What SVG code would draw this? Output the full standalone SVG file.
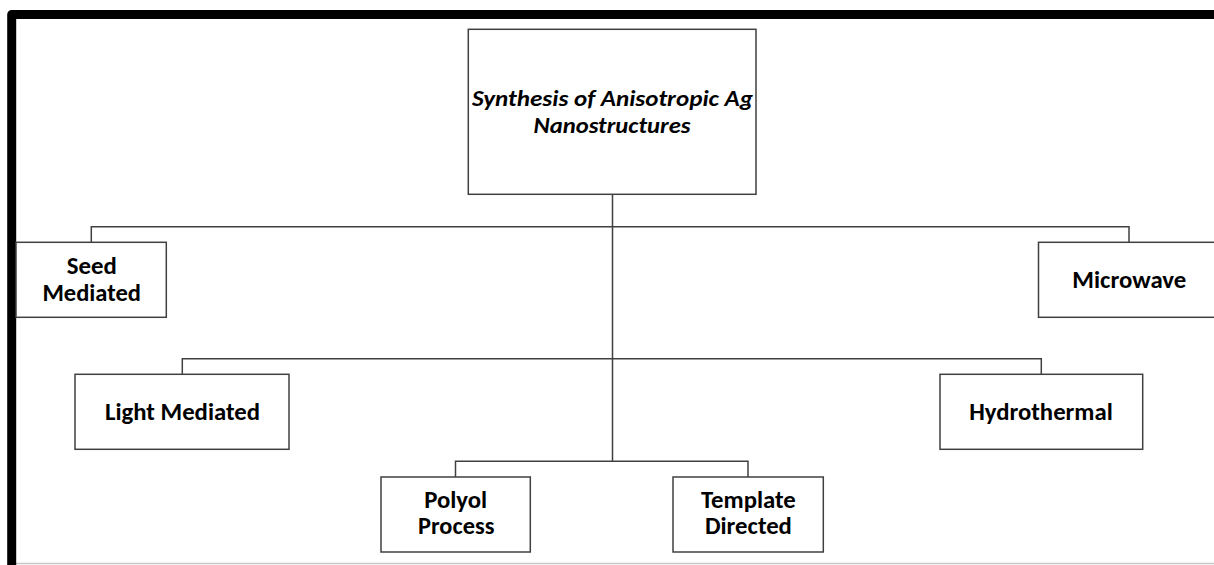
<svg xmlns="http://www.w3.org/2000/svg" width="1214" height="565" viewBox="0 0 1214 565">
<style>
.box{fill:#fff;stroke:#404040;stroke-width:1.5}
.con{fill:none;stroke:#404040;stroke-width:1.5}
.t{font-family:Calibri,Carlito,"Liberation Sans",sans-serif;font-weight:bold;font-size:24px;fill:#000;text-anchor:middle}
.it{font-style:italic;font-size:22px}
</style>
<rect x="0" y="0" width="1214" height="565" fill="#fff"/>
<line x1="16" y1="563.5" x2="1214" y2="563.5" stroke="#c8c8c8" stroke-width="1.5"/>
<path d="M11.7 570 V14.5 H1220" fill="none" stroke="#000" stroke-width="9" stroke-linejoin="round"/>
<g id="connectors">
<path class="con" d="M612.5 194.3 V461.3"/>
<path class="con" d="M91.3 242.3 V226.7 H1129 V242.3"/>
<path class="con" d="M182.3 374.3 V358.7 H1041.3 V374.3"/>
<path class="con" d="M455.5 477 V461.3 H748 V477"/>
</g>
<g id="root">
<rect class="box" x="468.3" y="29.3" width="287.7" height="165"/>
<text class="t it" x="612.5" y="106" textLength="281" lengthAdjust="spacingAndGlyphs">Synthesis of Anisotropic Ag</text>
<text class="t it" x="612" y="132.5" textLength="157" lengthAdjust="spacingAndGlyphs">Nanostructures</text>
</g>
<g id="seed">
<rect class="box" x="16" y="242.3" width="150.3" height="75"/>
<text class="t" x="91.7" y="274" textLength="50" lengthAdjust="spacingAndGlyphs">Seed</text>
<text class="t" x="91.7" y="301" textLength="98.5" lengthAdjust="spacingAndGlyphs">Mediated</text>
</g>
<g id="microwave">
<rect class="box" x="1038.5" y="242.3" width="182" height="75"/>
<text class="t" x="1129.3" y="287.5" textLength="114" lengthAdjust="spacingAndGlyphs">Microwave</text>
</g>
<g id="light">
<rect class="box" x="75" y="374.3" width="214" height="75"/>
<text class="t" x="182.5" y="419.5" textLength="155" lengthAdjust="spacingAndGlyphs">Light Mediated</text>
</g>
<g id="hydrothermal">
<rect class="box" x="940" y="374.3" width="202.7" height="75"/>
<text class="t" x="1041" y="419.5" textLength="143.5" lengthAdjust="spacingAndGlyphs">Hydrothermal</text>
</g>
<g id="polyol">
<rect class="box" x="381" y="477" width="149.3" height="75"/>
<text class="t" x="455.7" y="507.5" textLength="63" lengthAdjust="spacingAndGlyphs">Polyol</text>
<text class="t" x="456.2" y="534" textLength="76.3" lengthAdjust="spacingAndGlyphs">Process</text>
</g>
<g id="template">
<rect class="box" x="673" y="477" width="150.3" height="75"/>
<text class="t" x="748.4" y="507.5" textLength="94.8" lengthAdjust="spacingAndGlyphs">Template</text>
<text class="t" x="748.4" y="534" textLength="87" lengthAdjust="spacingAndGlyphs">Directed</text>
</g>
</svg>
